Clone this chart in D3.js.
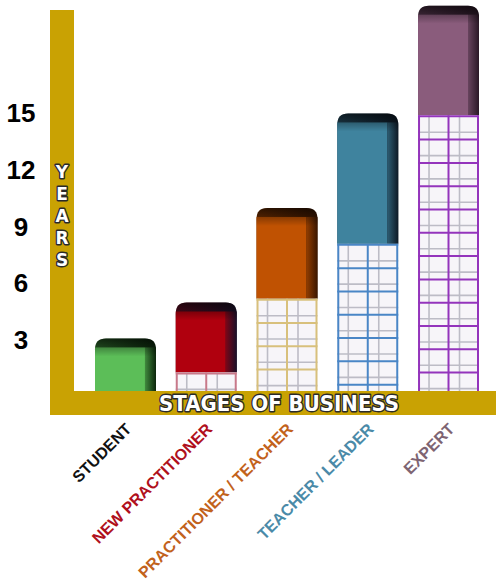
<!DOCTYPE html>
<html>
<head>
<meta charset="utf-8">
<script src="https://cdn.jsdelivr.net/npm/d3@7"></script>
<style>
  html, body { margin: 0; padding: 0; background: #ffffff; }
  svg { display: block; }
</style>
</head>
<body>
<script>
// ---- data ----
const categories = ["STUDENT", "NEW PRACTITIONER", "PRACTITIONER / TEACHER", "TEACHER / LEADER", "EXPERT"];
const priorYears = [0, 1.3, 5.2, 8.1, 14.9];      // gridded (earlier stages) part of each bar
const totalYears = [3.1, 5, 10, 15, 20.7];         // top of each bar
const yTicks = [3, 6, 9, 12, 15];
const yTitle = "YEARS";
const xTitle = "STAGES OF BUSINESS";

// ---- styles ----
const faceColors = ["#5cbe58", "#b0000e", "#c05202", "#3f839e", "#8a5c7c"];
const sideColors = ["#0c260c", "#1a1028", "#3a1600", "#0e1a26", "#2a1826"];
const gridColors = ["#c0c0c0", "#c8798a", "#d8c07c", "#4a86c6", "#9434bc"];
const labelColors = ["#111111", "#b0101c", "#c2621c", "#4a8aa8", "#7e6472"];
const gold = "#c9a203";

const W = 496, H = 585;
const svg = d3.select("body").append("svg").attr("width", W).attr("height", H);
const defs = svg.append("defs");

const x = d3.scaleBand().domain(categories).range([95, 479]).paddingInner(0.245).paddingOuter(0);
const y = d3.scaleLinear().domain([0, 21]).range([397, 0]);

const bars = categories.map((c, i) => ({ c, i, prior: priorYears[i], total: totalYears[i] }));

function roundTop(x0, yT, w, yB, r) {
  return `M${x0},${yB}V${yT + r}Q${x0},${yT} ${x0 + r},${yT}H${x0 + w - r}Q${x0 + w},${yT} ${x0 + w},${yT + r}V${yB}Z`;
}

// gradients
bars.forEach(d => {
  const g1 = defs.append("linearGradient").attr("id", "side" + d.i).attr("x1", 0).attr("x2", 1).attr("y1", 0).attr("y2", 0);
  g1.append("stop").attr("offset", "0%").attr("stop-color", d3.interpolateRgb(faceColors[d.i], sideColors[d.i])(0.6));
  g1.append("stop").attr("offset", "100%").attr("stop-color", sideColors[d.i]);
  const g2 = defs.append("linearGradient").attr("id", "strip" + d.i).attr("x1", 0).attr("x2", 1).attr("y1", 0).attr("y2", 0);
  g2.append("stop").attr("offset", "0%").attr("stop-color", d3.interpolateRgb(faceColors[d.i], sideColors[d.i])(0.35));
  g2.append("stop").attr("offset", "100%").attr("stop-color", sideColors[d.i]);
});
const cap = defs.append("linearGradient").attr("id", "cap").attr("x1", 0).attr("x2", 0).attr("y1", 0).attr("y2", 1);
cap.append("stop").attr("offset", "0%").attr("stop-color", "#000").attr("stop-opacity", 0.6);
cap.append("stop").attr("offset", "100%").attr("stop-color", "#000").attr("stop-opacity", 0);

const bw = x.bandwidth();
const capH = 9, stripW = 11;

const gBars = svg.append("g");
bars.forEach(d => {
  const x0 = x(d.c);
  const yT = y(d.total), yG = y(d.prior), yB = y(0);
  const g = gBars.append("g");
  // coloured (current stage) part
  g.append("path").attr("d", roundTop(x0, yT, bw, yG, 11)).attr("fill", `url(#side${d.i})`);
  g.append("rect").attr("x", x0).attr("y", yT + capH).attr("width", bw - stripW).attr("height", Math.max(0, yG - yT - capH))
    .attr("fill", faceColors[d.i]);
  g.append("rect").attr("x", x0 + bw - stripW).attr("y", yT + capH).attr("width", stripW).attr("height", Math.max(0, yG - yT - capH))
    .attr("fill", `url(#strip${d.i})`);
  g.append("path").attr("d", roundTop(x0, yT, bw, yT + 18, 11)).attr("fill", "url(#cap)");

  // gridded (earlier stages) part
  if (d.prior > 0) {
    const gg = g.append("g");
    gg.append("rect").attr("x", x0).attr("y", yG).attr("width", bw).attr("height", yB - yG).attr("fill", "#f7f5f9");
    const rowH = 23.3;
    const rows = d3.range(yG, yB, rowH);
    const colX = [x0, x0 + bw / 2];
    // light lines
    rows.forEach(r => {
      if (r + 17 < yB) gg.append("line").attr("x1", x0).attr("x2", x0 + bw).attr("y1", r + 17).attr("y2", r + 17)
        .attr("stroke", "#bdbcc6").attr("stroke-width", 1.6);
    });
    colX.forEach(cx => {
      gg.append("line").attr("x1", cx + 11).attr("x2", cx + 11).attr("y1", yG).attr("y2", yB)
        .attr("stroke", "#bdbcc6").attr("stroke-width", 1.6);
    });
    // main lines
    rows.forEach(r => {
      gg.append("line").attr("x1", x0).attr("x2", x0 + bw).attr("y1", r + 1).attr("y2", r + 1)
        .attr("stroke", gridColors[d.i]).attr("stroke-width", 2);
    });
    [x0 + 1, x0 + bw / 2, x0 + bw - 1].forEach(vx => {
      gg.append("line").attr("x1", vx).attr("x2", vx).attr("y1", yG).attr("y2", yB)
        .attr("stroke", gridColors[d.i]).attr("stroke-width", 2);
    });
  }
});

// gold axes
svg.append("rect").attr("x", 50).attr("y", 10).attr("width", 24).attr("height", 405).attr("fill", gold);
svg.append("rect").attr("x", 50).attr("y", 391).attr("width", W - 50).attr("height", 24).attr("fill", gold);

// y tick labels
const yAxis = svg.append("g").attr("transform", "translate(21,0)")
  .call(d3.axisLeft(y).tickValues(yTicks).tickSize(0).tickPadding(0));
yAxis.select(".domain").remove();
yAxis.selectAll("text").attr("text-anchor", "middle").attr("x", 0)
  .attr("font-family", "'Liberation Sans', Arial, sans-serif").attr("font-weight", "bold")
  .attr("font-size", 26).attr("fill", "#000");

// y title, stacked letters
const outlined = sel => sel.attr("fill", "#fff").attr("stroke", "#2a2a2a").attr("stroke-width", 2.8)
  .attr("paint-order", "stroke").attr("stroke-linejoin", "round")
  .attr("font-family", "'DejaVu Sans', 'Liberation Sans', sans-serif").attr("font-weight", "bold");
svg.append("g").selectAll("text").data(yTitle.split("")).join("text")
  .attr("x", 62).attr("y", (d, i) => 178 + i * 22).attr("text-anchor", "middle")
  .attr("font-size", 17).text(d => d).call(outlined);

// x title
svg.append("text").attr("x", 279).attr("y", 411).attr("text-anchor", "middle")
  .attr("font-size", 21).attr("textLength", 240).attr("lengthAdjust", "spacingAndGlyphs")
  .text(xTitle).call(outlined);

// x category labels
svg.append("g").selectAll("text").data(bars).join("text")
  .attr("transform", d => `translate(${x(d.c) + bw / 2 + 7},430) rotate(-45)`)
  .attr("text-anchor", "end")
  .attr("font-family", "'Liberation Sans', Arial, sans-serif").attr("font-weight", "bold")
  .attr("font-size", 16).attr("fill", d => labelColors[d.i])
  .text(d => d.c);
</script>
</body>
</html>
